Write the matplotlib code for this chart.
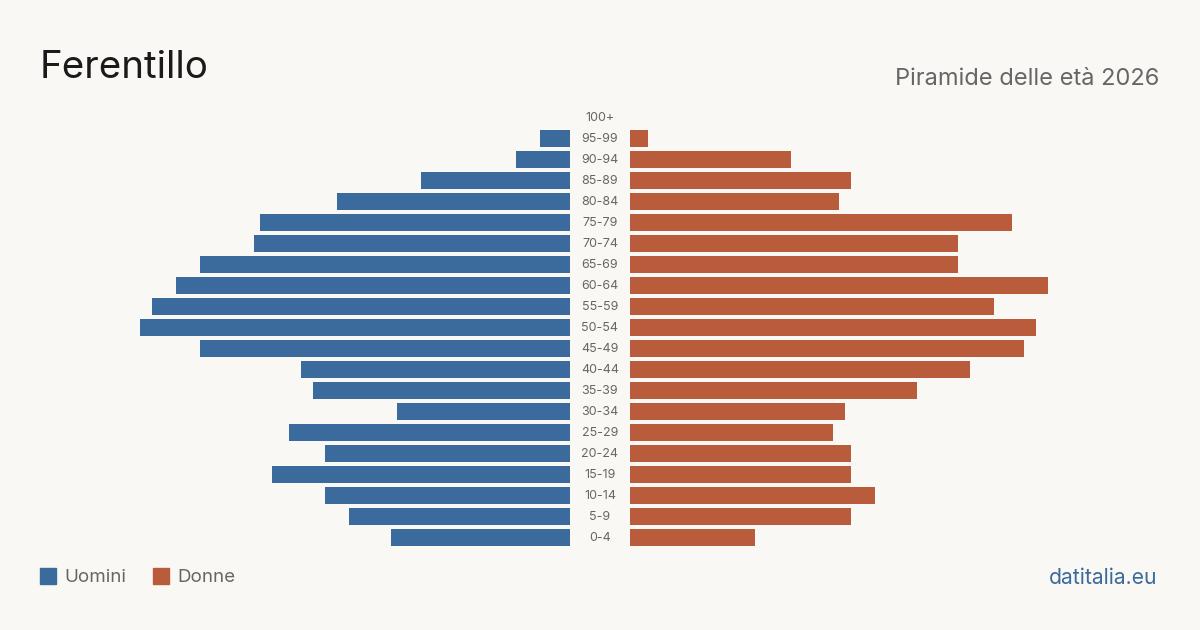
import numpy as np
import matplotlib.pyplot as plt

# --- data ---
age_groups = ["0-4", "5-9", "10-14", "15-19", "20-24", "25-29", "30-34", "35-39",
              "40-44", "45-49", "50-54", "55-59", "60-64", "65-69", "70-74",
              "75-79", "80-84", "85-89", "90-94", "95-99", "100+"]
uomini = [30, 37, 41, 50, 41, 47, 29, 43, 45, 62, 72, 70, 66, 62, 53, 52, 39, 25, 9, 5, 0]
donne = [21, 37, 41, 37, 37, 34, 36, 48, 57, 66, 68, 61, 70, 55, 55, 64, 35, 37, 27, 3, 0]

bg = "#f9f8f4"
blue = "#3a6b9c"
red = "#b95c3b"
grey = "#666666"
plt.rcParams['font.family'] = ['Inter', 'DejaVu Sans']

fig = plt.figure(figsize=(12, 6.3), dpi=100, facecolor=bg)
W, H = 1200, 630
xmax = 80
px_per_unit = 5.97
span = xmax * px_per_unit
bottom = (H - 548) / H
height = 441 / H

axL = fig.add_axes([(570 - span) / W, bottom, span / W, height])
axR = fig.add_axes([630 / W, bottom, span / W, height])

y = np.arange(len(age_groups))
axL.barh(y, uomini, height=0.8, color=blue)
axR.barh(y, donne, height=0.8, color=red)
axL.set_xlim(xmax, 0)
axR.set_xlim(0, xmax)
for ax in (axL, axR):
    ax.set_ylim(-0.5, len(age_groups) - 0.5)
    ax.set_facecolor(bg)
    ax.axis('off')

for i, lab in enumerate(age_groups):
    fig.text(600 / W, (H - (538 - 21 * i)) / H, lab, ha='center', va='center',
             fontsize=9, color=grey)

fig.text(40 / W, (H - 68) / H, "Ferentillo", fontsize=27.7, color="#1a1a1a",
         ha='left', va='center')
fig.text(1159 / W, (H - 79) / H, "Piramide delle età 2026", fontsize=17,
         color=grey, ha='right', va='center')

# legend
fig.patches.append(plt.Rectangle((40 / W, (H - 584) / H), 16 / W, 16 / H,
                                 transform=fig.transFigure, color=blue))
fig.text(64 / W, (H - 578) / H, "Uomini", fontsize=13.5, color=grey, va='center')
fig.patches.append(plt.Rectangle((153 / W, (H - 584) / H), 16 / W, 16 / H,
                                 transform=fig.transFigure, color=red))
fig.text(177 / W, (H - 578) / H, "Donne", fontsize=13.5, color=grey, va='center')

fig.text(1157 / W, (H - 578) / H, "datitalia.eu", fontsize=15.2, color=blue,
         ha='right', va='center')

fig.savefig("out.png", dpi=100, facecolor=bg)
